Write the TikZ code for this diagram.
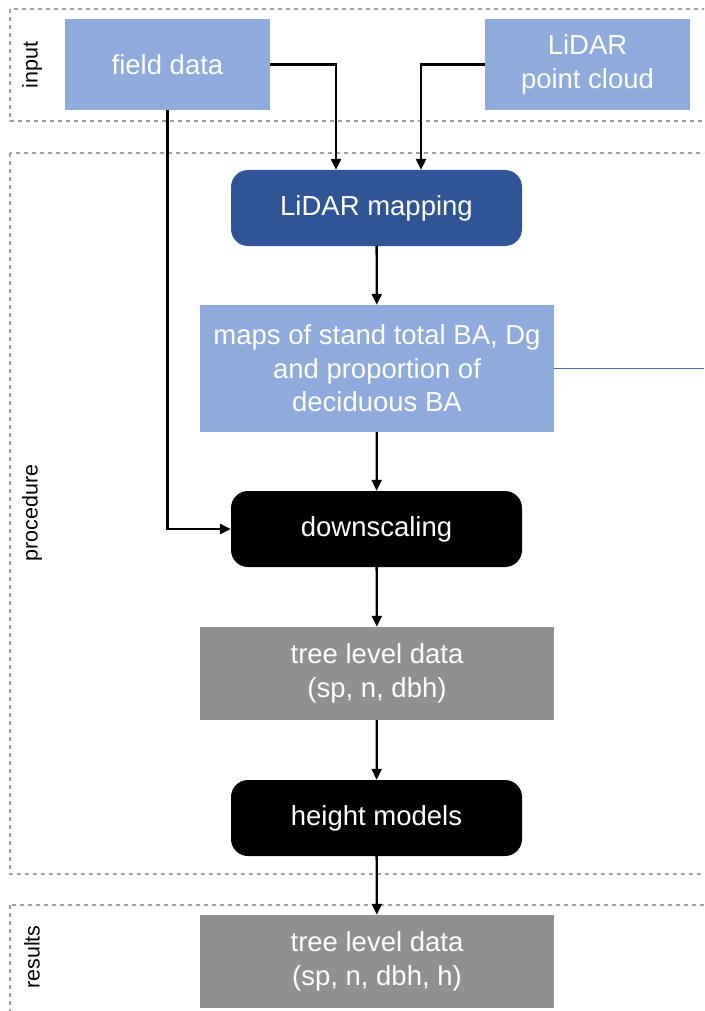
\documentclass[tikz,border=0pt]{standalone}
\usepackage{fontspec}
\setmainfont{Liberation Sans}
\usetikzlibrary{arrows.meta}
\definecolor{flowlight}{HTML}{8FAADC}
\definecolor{flowdark}{HTML}{2F5597}
\definecolor{flowgrey}{HTML}{909090}
\definecolor{framegrey}{HTML}{A0A0A0}

\tikzset{
  databox/.style={fill=flowlight, text=white, align=center, inner sep=0pt,
    font=\fontsize{27.5}{33.5}\selectfont},
  procbox/.style={databox, rounded corners=17pt, minimum width=291pt, minimum height=76pt},
  treebox/.style={databox, fill=flowgrey, minimum width=354pt, minimum height=93pt},
  phase/.style={draw=framegrey, line width=2pt, dash pattern=on 4pt off 4pt},
  phaselabel/.style={rotate=90, font=\fontsize{21.5}{26}\selectfont},
  flow/.style={line width=2.3pt, -{Triangle[length=11pt,width=10pt]}}
}

\begin{document}
\begin{tikzpicture}[x=1pt,y=-1pt]
\useasboundingbox (0,0) rectangle (704,1011);
\clip (0,0) rectangle (704,1011);

% phase frames
\draw[phase] (10,9) rectangle (730,121);
\draw[phase] (10,153) rectangle (730,874);
\draw[phase] (10,905) rectangle (730,1040);
\node[phaselabel] (lblin) at (32,65) {input};
\node[phaselabel] (lblproc) at (32,513) {procedure};
\node[phaselabel] (lblres) at (32,957) {results};

% input data
\node[databox, minimum width=205pt, minimum height=91pt] (field) at (167.5,64.5) {field data};
\node[databox, minimum width=205pt, minimum height=91pt] (cloud) at (587.5,64.5) {LiDAR\\point cloud};

% procedure
\node[procbox, fill=flowdark] (mapping) at (376.5,208) {LiDAR mapping};
\node[databox, minimum width=354pt, minimum height=127pt] (maps) at (377,368.5)
  {maps of stand total BA, Dg\\and proportion of\\deciduous BA};
\node[procbox, fill=black] (down) at (376.5,529) {downscaling};
\node[treebox] (tree) at (377,673.5) {tree level data\\(sp, n, dbh)};
\node[procbox, fill=black] (height) at (376.5,818) {height models};

% results
\node[treebox] (result) at (377,961.5) {tree level data\\(sp, n, dbh, h)};

% connectors
\coordinate (mapsout) at (704,368.5);
\draw[flow] (field.east) -| ([xshift=-40.5pt]mapping.north);
\draw[flow] (cloud.west) -| ([xshift=44.5pt]mapping.north);
\draw[flow] (field.south) |- (down.west);
\draw[flow] (mapping) -- (maps);
\draw[flow] (maps) -- (down);
\draw[flow] (down) -- (tree);
\draw[flow] (tree) -- (height);
\draw[flow] (height) -- (result);
\draw[flowdark!70!flowlight, line width=1.5pt] (maps.east) -- (mapsout);
\end{tikzpicture}
\end{document}
